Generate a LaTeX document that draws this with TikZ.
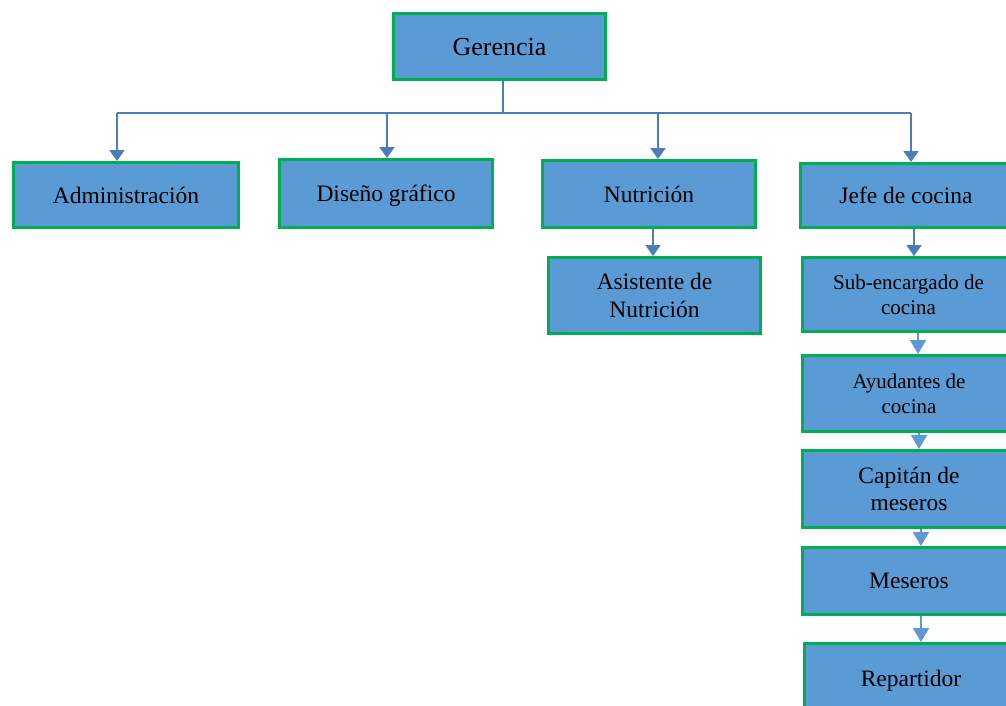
\documentclass[tikz,border=0pt]{standalone}
\usepackage{fontspec}
\setmainfont{Liberation Serif}
\usetikzlibrary{arrows.meta}
\definecolor{cajaazul}{HTML}{5B9BD5}
\definecolor{bordeverde}{HTML}{00B050}
\definecolor{lineaazul}{HTML}{4A7EBB}

\begin{document}
\begin{tikzpicture}[x=1pt, y=-1pt,
	puesto/.style={draw=bordeverde, line width=3pt, fill=cajaazul, minimum width=212pt, align=center, inner sep=0pt, text depth=0pt, font=\fontsize{23.5}{28}\selectfont},
	chico/.style={font=\fontsize{21}{25}\selectfont},
	linea/.style={lineaazul, line width=2pt},
	flecha/.style={linea, -{Triangle[length=11pt, width=15pt]}},
	flechaclara/.style={cajaazul, line width=2pt, -{Triangle[length=14pt, width=16pt]}}]
				\useasboundingbox (0,0) rectangle (1006,705);
				\node[puesto, minimum height=66pt, font=\fontsize{26}{30}\selectfont] (ger) at (499.5,46.5) {Gerencia};
				\node[puesto, minimum width=225pt, minimum height=65pt] (adm) at (126,195) {Administración};
				\node[puesto, minimum width=213pt, minimum height=68pt] (dis) at (386,193.5) {Diseño gráfico};
				\node[puesto, minimum width=213pt, minimum height=67pt] (nut) at (649,194) {Nutrición};
				\node[puesto, minimum height=76pt] (asi) at (654.5,295.5) {Asistente de\\Nutrición};
				\node[puesto, minimum width=211pt, minimum height=64pt] (jef) at (906,195.5) {Jefe de cocina};
				\node[puesto, chico, minimum height=74pt] (sub) at (908.5,294.5) {Sub-encargado de\\cocina};
				\node[puesto, chico, minimum width=213pt, minimum height=76pt] (ayu) at (909,393.5) {Ayudantes de\\cocina};
				\node[puesto, minimum width=213pt, minimum height=77pt, font=\fontsize{23.5}{27}\selectfont] (cap) at (909,489) {Capitán de\\meseros};
				\node[puesto, minimum width=213pt, minimum height=67pt] (mes) at (909,581) {Meseros};
				\node[puesto, minimum width=213pt, minimum height=69pt] (rep) at (911,678) {Repartidor};
				
				\coordinate (bus) at (503,113);
				\coordinate (d1) at (117,113);
				\coordinate (d2) at (387,113);
				\coordinate (d3) at (658,113);
				\coordinate (d4) at (911,113);
				\draw[linea] (bus |- ger.south) -- (bus);
				\draw[linea] (d1) -- (d4);
				\foreach \c/\n in {d1/adm, d2/dis, d3/nut, d4/jef} {
					\draw[flecha] (\c) -- (\c |- \n.north);
				}
				\draw[flecha] ([xshift=-1.5pt]asi.north |- nut.south) -- ([xshift=-1.5pt]asi.north);
				\draw[flecha] ([xshift=5.5pt]sub.north |- jef.south) -- ([xshift=5.5pt]sub.north);
				\foreach \a/\b/\s in {sub/ayu/9pt, ayu/cap/10pt, cap/mes/12pt, mes/rep/10pt} {
					\draw[flechaclara] ([xshift=\s]\b.north |- \a.south) -- ([xshift=\s]\b.north);
				}
			\end{tikzpicture}
\end{document}
